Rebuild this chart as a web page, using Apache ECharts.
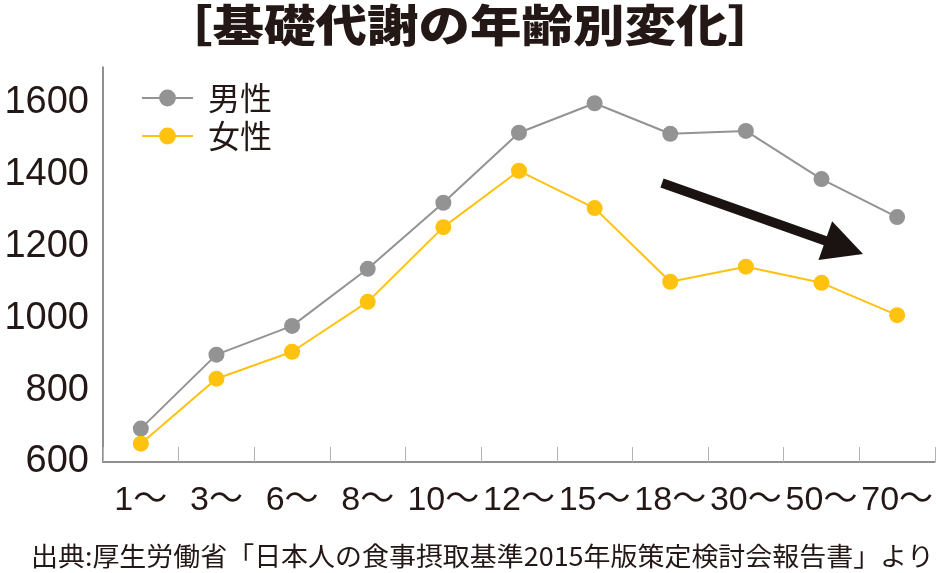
<!DOCTYPE html>
<html><head><meta charset="utf-8">
<script src="https://cdn.jsdelivr.net/npm/echarts/dist/echarts.min.js"></script>
<style>html,body{margin:0;padding:0;background:#fff}#c{width:936px;height:573px}</style>
</head><body><div id="c"></div>
<script>
// ---- data ----
const categories = ['1〜','3〜','6〜','8〜','10〜','12〜','15〜','18〜','30〜','50〜','70〜'];
const maleValues = [693, 899, 979, 1138, 1322, 1517, 1599, 1514, 1522, 1388, 1282];
const femaleValues = [651, 832, 907, 1046, 1254, 1411, 1307, 1102, 1144, 1099, 1009];
const yTickLabels = [600, 800, 1000, 1200, 1400, 1600];
const seriesNames = ['男性', '女性'];
const titleText = '［基礎代謝の年齢別変化］';
const sourceText = '出典:厚生労働省「日本人の食事摂取基準2015年版策定検討会報告書」より';

// ---- style ----
const TXT = '#231815';
const GRAY = '#939393';
const YEL = '#FFC20E';
const CJK = "'Noto Sans CJK JP'";
const LAT = "'Liberation Sans', 'Noto Sans CJK JP'";

function measure(text, font) {
  const c = document.createElement('canvas').getContext('2d');
  c.font = font;
  return c.measureText(text).width;
}
function arrowPoints(x0, y0, x1, y1, shaft, headLen, headHalf) {
  const dx = x1 - x0, dy = y1 - y0, L = Math.hypot(dx, dy);
  const ux = dx / L, uy = dy / L, nx = -uy, ny = ux;
  const bx = x1 - ux * headLen, by = y1 - uy * headLen, s = shaft / 2;
  return [[x0 + nx * s, y0 + ny * s], [bx + nx * s, by + ny * s], [bx + nx * headHalf, by + ny * headHalf],
          [x1, y1], [bx - nx * headHalf, by - ny * headHalf], [bx - nx * s, by - ny * s], [x0 - nx * s, y0 - ny * s]];
}

const srcFont = "26px 'Noto Sans CJK JP'";
const srcScale = 903 / measure(sourceText, srcFont);
const ttlFont = "900 44px 'Noto Sans CJK JP'";

const chart = echarts.init(document.getElementById('c'), null, {renderer: 'canvas'});
chart.setOption({
  animation: false,
  backgroundColor: '#fff',
  grid: {left: 103, right: 0, top: 67, bottom: 111},
  legend: {
    orient: 'vertical', left: 141, top: 82, padding: 0,
    itemWidth: 51, itemHeight: 21, itemGap: 6,
    data: seriesNames,
    textStyle: {fontSize: 32, fontFamily: CJK, color: TXT, padding: [0, 0, 0, 10]}
  },
  xAxis: {
    type: 'category', data: categories, boundaryGap: true,
    axisLine: {lineStyle: {color: '#6b6b6b', width: 1.5}},
    axisTick: {show: true, inside: true, length: 15, lineStyle: {color: '#b4b4b4', width: 1}},
    axisLabel: {interval: 0, fontSize: 34, margin: 22, color: TXT, fontFamily: LAT},
    splitLine: {show: false}
  },
  yAxis: {
    type: 'value', min: 600, max: 1700, interval: 200,
    axisLine: {show: true, lineStyle: {color: '#6b6b6b', width: 1.5}},
    axisTick: {show: false},
    splitLine: {show: false},
    axisLabel: {
      fontSize: 38, margin: 14, color: TXT, fontFamily: LAT,
      formatter: v => yTickLabels.indexOf(v) >= 0 ? String(v) : ''
    }
  },
  series: [
    {name: seriesNames[0], type: 'line', data: maleValues, symbol: 'circle', symbolSize: 16,
     lineStyle: {color: GRAY, width: 2}, itemStyle: {color: GRAY}},
    {name: seriesNames[1], type: 'line', data: femaleValues, symbol: 'circle', symbolSize: 16,
     lineStyle: {color: YEL, width: 2}, itemStyle: {color: YEL}}
  ],
  graphic: [
    {type: 'text', x: 470, y: 25, scaleX: 1.17, z: 10,
     style: {text: titleText, font: ttlFont, fill: TXT, align: 'center', verticalAlign: 'middle'}},
    {type: 'text', x: 31, y: 556, scaleX: srcScale, z: 10,
     style: {text: sourceText, font: srcFont, fill: TXT, align: 'left', verticalAlign: 'middle'}},
    {type: 'polygon', z: 10,
     shape: {points: arrowPoints(662, 183, 863, 254, 9.5, 40, 20.5)},
     style: {fill: '#1a1311'}}
  ]
});
</script>
</body></html>
